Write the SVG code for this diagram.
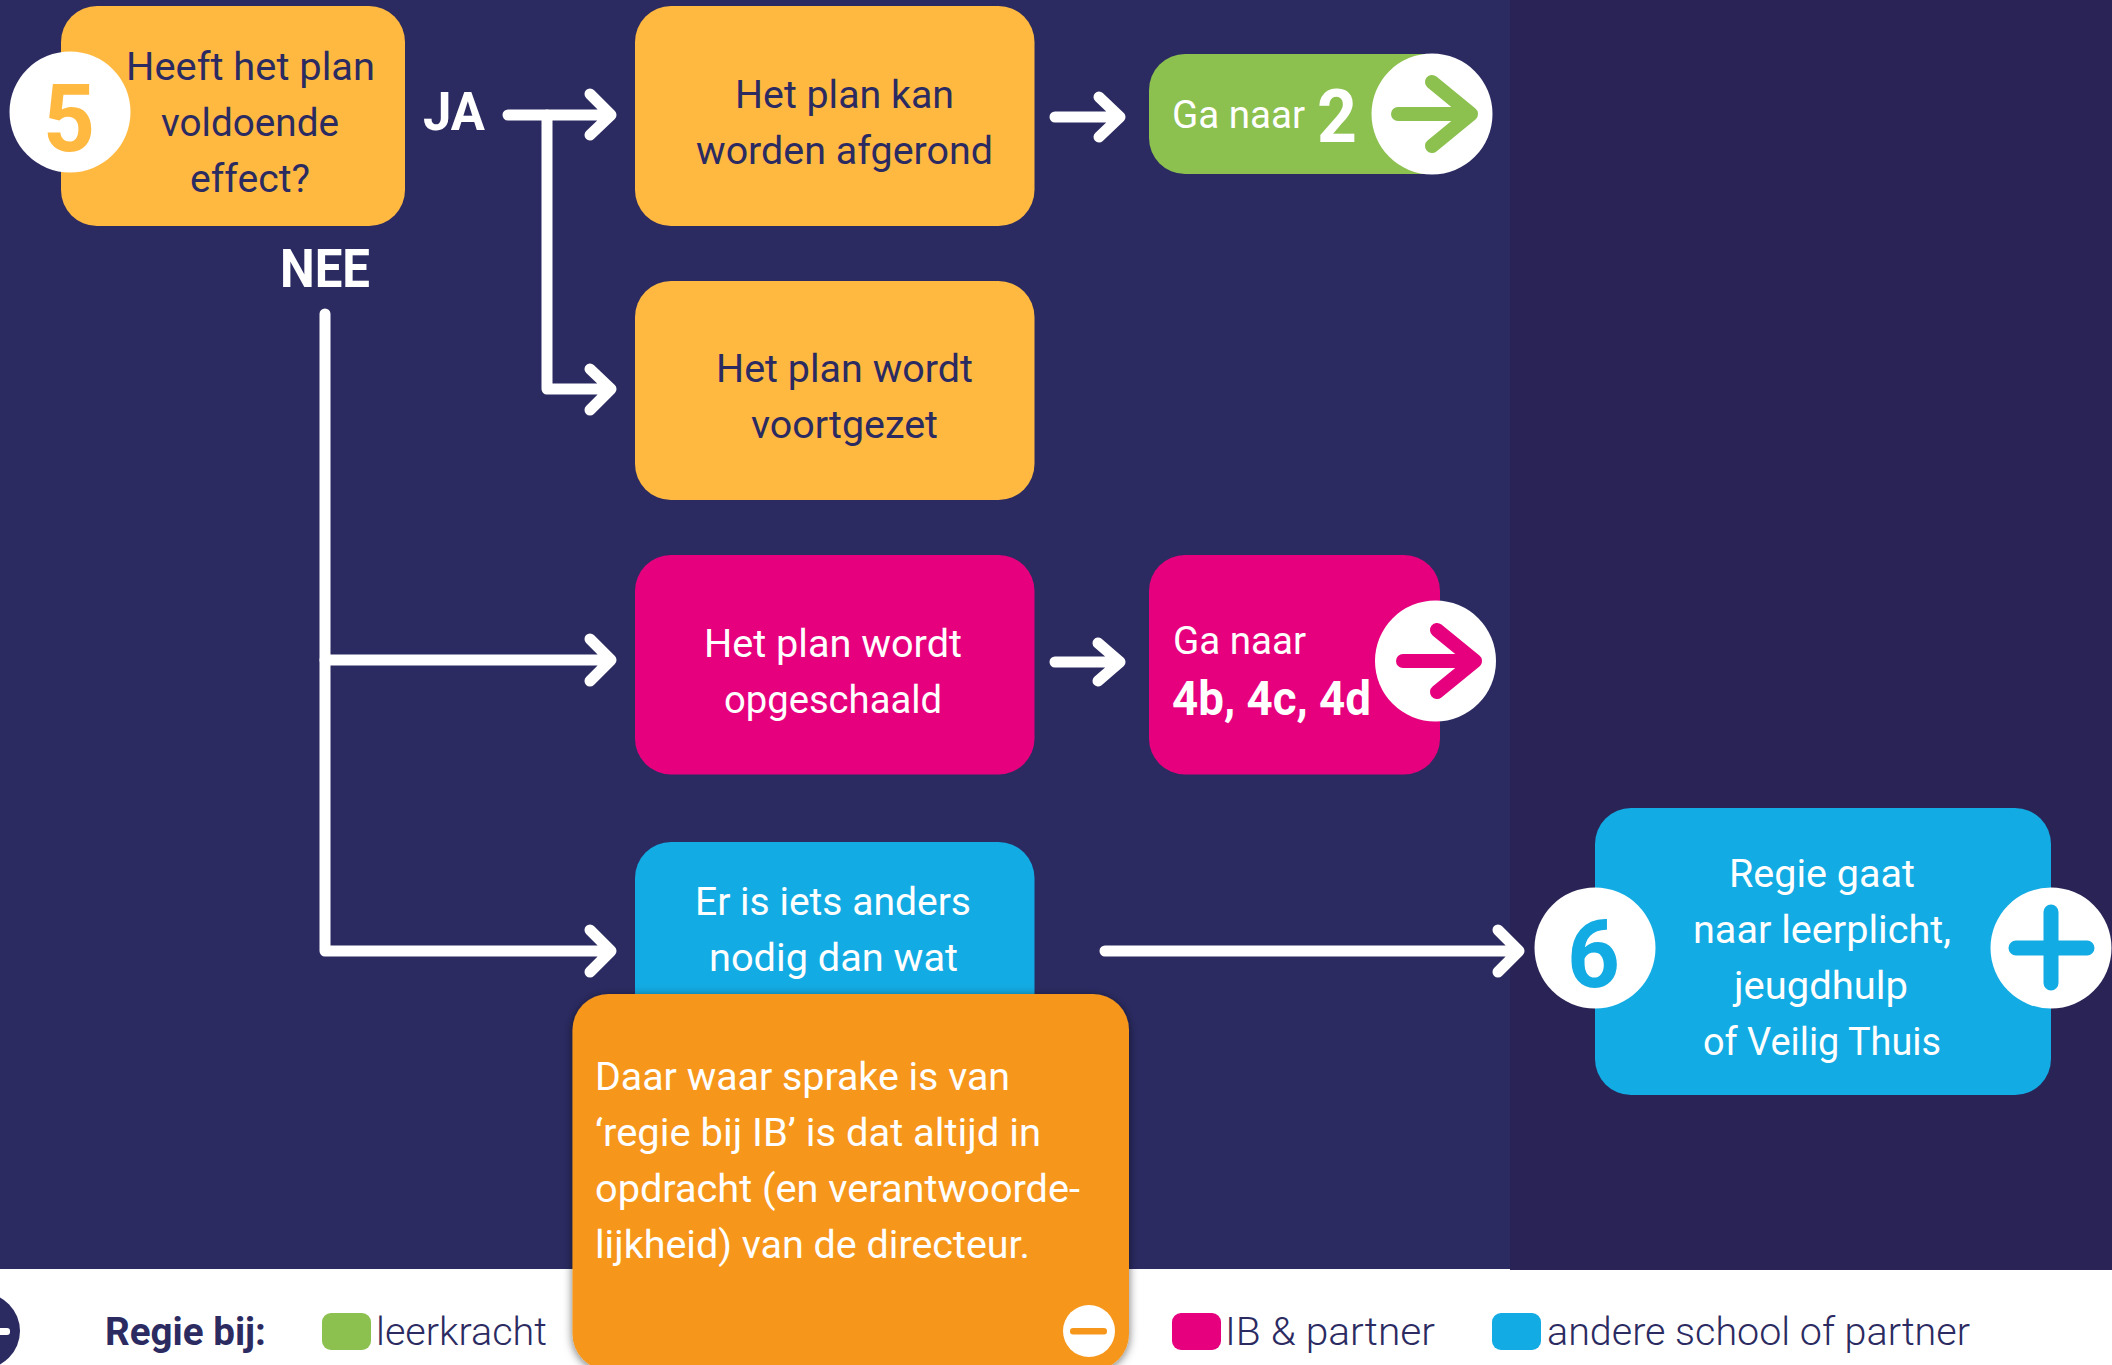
<svg xmlns="http://www.w3.org/2000/svg" width="2112" height="1365" viewBox="0 0 2112 1365">
<style>
text{font-family:Roboto,"Liberation Sans",sans-serif;font-size:39px;fill:#fff}
.n{fill:#2b2b62}
.b{font-weight:700}
.l{font-weight:300;fill:#2b2b62}
.big{font-size:54px;font-weight:700}
.num{font-size:95px;font-weight:700}
.c{fill:#fff}
.y{fill:#ffb941}.p{fill:#e6007e}.s{fill:#13abe3}.g{fill:#8cc04f}.o{fill:#f6971b}
.a{fill:none;stroke:#fff;stroke-width:11;stroke-linecap:round;stroke-linejoin:round}
.i{fill:none;stroke-width:14;stroke-linecap:round;stroke-linejoin:round}
</style>
<defs>
<filter id="sh" x="-10%" y="-10%" width="120%" height="120%"><feDropShadow dx="0" dy="2" stdDeviation="5" flood-color="#000" flood-opacity=".55"/></filter>
</defs>
<rect width="2112" height="1365" fill="#fff"/>
<rect width="1510" height="1269" fill="#2b2b62"/>
<rect x="1510" width="602" height="1270" fill="#2a2456"/>

<g id="connectors">
<path class="a" d="M508 115H611M590 94L611 115L590 135"/>
<path class="a" d="M547 115V389H611M590 369L611 389L590 410"/>
<path class="a" d="M325 314V951H611M590 930L611 951L590 972"/>
<path class="a" d="M325 660H611M590 639L611 660L590 681"/>
<path class="a" d="M1055 117H1120M1099 97L1120 117L1099 137"/>
<path class="a" d="M1055 662H1120M1098 643L1120 662L1098 681"/>
<path class="a" d="M1105 951H1519M1498 930L1519 951L1498 972"/>
</g>

<g id="q5">
<rect class="y" x="61" y="6" width="344" height="220" rx="36"/>
<circle class="c" cx="70" cy="112" r="60.5"/>
<text class="num y" x="43" y="151" textLength="52" lengthAdjust="spacingAndGlyphs">5</text>
<text class="n" x="126" y="80" textLength="249" lengthAdjust="spacingAndGlyphs">Heeft het plan</text>
<text class="n" x="161" y="136" textLength="178" lengthAdjust="spacingAndGlyphs">voldoende</text>
<text class="n" x="190" y="192" textLength="120" lengthAdjust="spacingAndGlyphs">effect?</text>
</g>
<g id="label-ja"><text class="big" x="423" y="130" textLength="62" lengthAdjust="spacingAndGlyphs">JA</text></g>
<g id="label-nee"><text class="big" x="280" y="287" textLength="90" lengthAdjust="spacingAndGlyphs">NEE</text></g>

<g id="afgerond">
<rect class="y" x="635" y="6" width="399.500" height="220" rx="36"/>
<text class="n" x="735" y="108" textLength="219" lengthAdjust="spacingAndGlyphs">Het plan kan</text>
<text class="n" x="696" y="164" textLength="297" lengthAdjust="spacingAndGlyphs">worden afgerond</text>
</g>
<g id="voortgezet">
<rect class="y" x="635" y="281" width="399.500" height="219" rx="36"/>
<text class="n" x="716" y="382" textLength="257" lengthAdjust="spacingAndGlyphs">Het plan wordt</text>
<text class="n" x="751" y="438" textLength="187" lengthAdjust="spacingAndGlyphs">voortgezet</text>
</g>
<g id="opgeschaald">
<rect class="p" x="635" y="555" width="399.500" height="219.500" rx="36"/>
<text x="704" y="657" textLength="258" lengthAdjust="spacingAndGlyphs">Het plan wordt</text>
<text x="724" y="713" textLength="218" lengthAdjust="spacingAndGlyphs">opgeschaald</text>
</g>
<g id="anders">
<rect class="s" x="635" y="842" width="399.500" height="200" rx="36"/>
<text x="695" y="915" textLength="276" lengthAdjust="spacingAndGlyphs">Er is iets anders</text>
<text x="709" y="971" textLength="249" lengthAdjust="spacingAndGlyphs">nodig dan wat</text>
</g>

<g id="ga-2">
<rect class="g" x="1149" y="54" width="310" height="120" rx="36"/>
<circle class="c" cx="1432" cy="114" r="60.5"/>
<path class="i" d="M1398 114H1471M1432 82L1471 114L1432 146" style="stroke:#8cc04f"/>
<text x="1172" y="128" textLength="133" lengthAdjust="spacingAndGlyphs">Ga naar</text>
<text class="b" style="font-size:74px" x="1317" y="142" textLength="40" lengthAdjust="spacingAndGlyphs">2</text>
</g>
<g id="ga-4">
<rect class="p" x="1149" y="555" width="291" height="219.500" rx="36"/>
<circle class="c" cx="1435.5" cy="661" r="60.5"/>
<path class="i" d="M1403 661H1475M1437 630L1475 661L1437 692" style="stroke:#e6007e"/>
<text x="1173" y="654" textLength="133" lengthAdjust="spacingAndGlyphs">Ga naar</text>
<text class="b" style="font-size:49px" x="1172" y="715" textLength="199" lengthAdjust="spacingAndGlyphs">4b, 4c, 4d</text>
</g>

<g id="regie">
<rect class="s" x="1595" y="808" width="456" height="287" rx="36"/>
<circle class="c" cx="1595" cy="948" r="60.5"/>
<circle class="c" cx="2051" cy="948" r="60.5"/>
<text class="num s" x="1567" y="987" textLength="53" lengthAdjust="spacingAndGlyphs">6</text>
<path class="i" d="M2016 948H2087M2051 912V983" style="stroke:#13abe3;stroke-width:15"/>
<text x="1729" y="887" textLength="186" lengthAdjust="spacingAndGlyphs">Regie gaat</text>
<text x="1693" y="943" textLength="258" lengthAdjust="spacingAndGlyphs">naar leerplicht,</text>
<text x="1734" y="999" textLength="174" lengthAdjust="spacingAndGlyphs">jeugdhulp</text>
<text x="1703" y="1055" textLength="238" lengthAdjust="spacingAndGlyphs">of Veilig Thuis</text>
</g>

<g id="legend">
<circle class="n" cx="-18" cy="1331" r="38"/>
<rect class="c" x="-10" y="1328" width="20" height="7" rx="3"/>
<text class="n b" x="105" y="1345" textLength="161" lengthAdjust="spacingAndGlyphs">Regie bij:</text>
<rect class="g" x="322" y="1313" width="49" height="37" rx="9"/>
<text class="l" x="376" y="1345" textLength="171" lengthAdjust="spacingAndGlyphs">leerkracht</text>
<rect class="p" x="1172" y="1313" width="49" height="37" rx="9"/>
<text class="l" x="1225" y="1345" textLength="210" lengthAdjust="spacingAndGlyphs">IB &amp; partner</text>
<rect class="s" x="1492" y="1313" width="49" height="37" rx="9"/>
<text class="l" x="1547" y="1345" textLength="423" lengthAdjust="spacingAndGlyphs">andere school of partner</text>
</g>

<g id="note">
<rect class="o" x="572.500" y="994" width="556.500" height="376" rx="36" filter="url(#sh)"/>
<text x="595" y="1090" textLength="415" lengthAdjust="spacingAndGlyphs">Daar waar sprake is van</text>
<text x="595" y="1146" textLength="446" lengthAdjust="spacingAndGlyphs">‘regie bij IB’ is dat altijd in</text>
<text x="595" y="1202" textLength="485" lengthAdjust="spacingAndGlyphs">opdracht (en verantwoorde-</text>
<text x="595" y="1258" textLength="435" lengthAdjust="spacingAndGlyphs">lijkheid) van de directeur.</text>
<circle class="c" cx="1089" cy="1331" r="26"/>
<rect class="o" x="1070" y="1328" width="37" height="6.500" rx="3"/>
</g>
</svg>
